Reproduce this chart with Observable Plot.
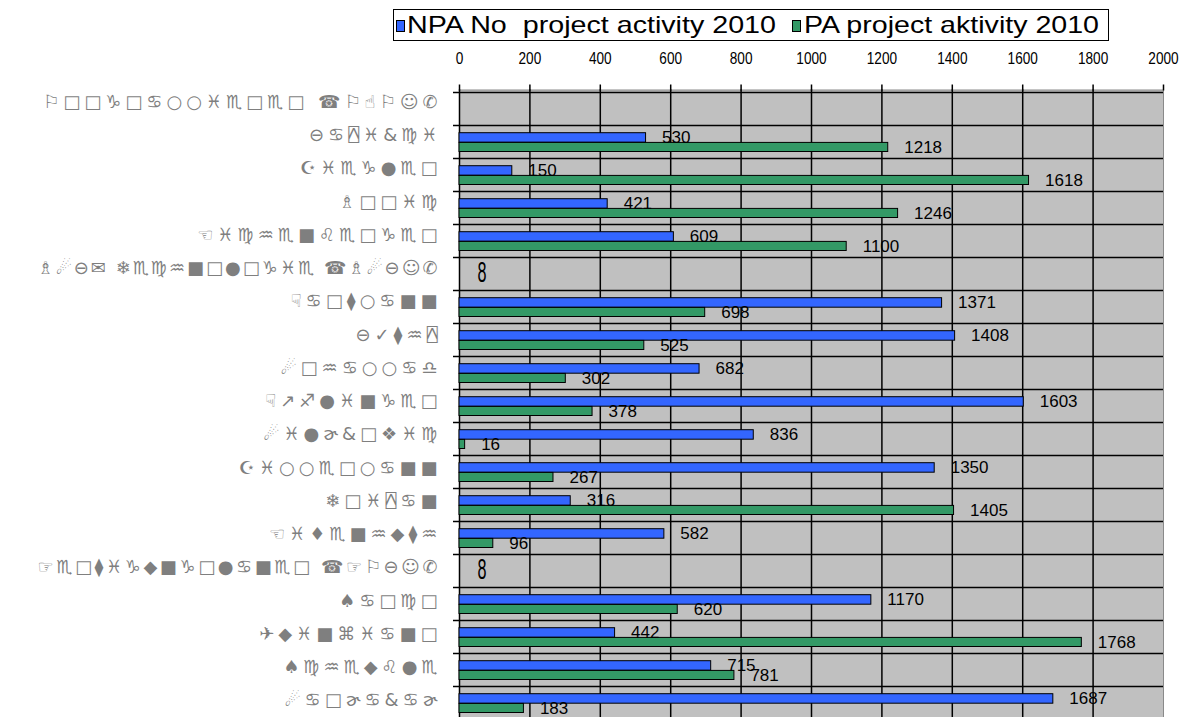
<!DOCTYPE html>
<html><head><meta charset="utf-8">
<script src="https://cdn.jsdelivr.net/npm/d3@7"></script>
<script src="https://cdn.jsdelivr.net/npm/@observablehq/plot@0.6"></script>
<style>
html,body{margin:0;padding:0;background:#fff;}
body{width:1190px;height:717px;overflow:hidden;font-family:"Liberation Sans",Arial,sans-serif;}
#legend{position:relative;height:45px;}
#box{position:absolute;left:393px;top:9px;width:716px;height:32px;border:1px solid #000;box-sizing:border-box;background:#fff;}
.sw{position:absolute;top:10px;width:9px;height:12px;border:1px solid #000;box-sizing:border-box;}
.lt{position:absolute;top:1px;font-size:24px;line-height:28px;white-space:pre;transform-origin:0 50%;color:#000;}
#chart svg{display:block;}
</style></head><body>
<div id="legend"><div id="box"></div></div>
<div id="chart"></div>
<script>
// ---- data ----
const categories = [
  "Programmierer (PGPJ)", "Kayikci", "Ziegler", "Boric", "Eichenberger",
  "BMK* Technologie (BMKJ)", "Hartmann", "Küthy", "Mohammad", "Häflinger",
  "Miljkovic", "Zimmermann", "Triyan", "Eisenhuth", "Fertigungplaner (FPKJ)",
  "Sarco", "Quinziano", "Scheuble", "Marjakaj"
];
const npaValues = [null, 530, 150, 421, 609, null, 1371, 1408, 682, 1603, 836, 1350, 316, 582, null, 1170, 442, 715, 1687];
const paValues  = [null, 1218, 1618, 1246, 1100, null, 698, 525, 302, 378, 16, 267, 1405, 96, null, 620, 1768, 781, 183];
const zeroLabels = [null, null, null, null, null, "8", null, null, null, null, null, null, null, null, "8", null, null, null, null];
const xTicks = [0, 200, 400, 600, 800, 1000, 1200, 1400, 1600, 1800, 2000];
const seriesNames = ["NPA No  project activity 2010", "PA project aktivity 2010"];
const seriesColors = ["#3366ff", "#339966"];

// The original labels were rendered in a Wingdings-like symbol font
const wingMap = {
  a:"♋", b:"♌", c:"♍", d:"♎", e:"♏", f:"♐", g:"♑", h:"♒", i:"♓", j:"ɚ", k:"&",
  l:"●", m:"○", n:"■", o:"□", p:"□", r:"□", s:"♦", t:"⧫", u:"◆", v:"❖",
  y:"⍓", z:"⌘", B:"♗", E:"☜", F:"☞", G:"☝", H:"☟", J:"☺", K:"⊖", M:"☄",
  P:"⚐", Q:"✈", S:"♠", T:"❄", Z:"☪", "(":"☎", ")":"✆", "*":"✉",
  "ü":"✓", "ä":"↗"
};
const toWing = s => Array.from(s).map(ch => wingMap[ch] ?? ch).join("");

// ---- legend ----
const box = document.getElementById("box");
const legendLayout = [{sw: 2, tx: 13, w: 369}, {sw: 398, tx: 410, w: 295}];
seriesNames.forEach((name, i) => {
  const sw = document.createElement("div");
  sw.className = "sw"; sw.style.left = legendLayout[i].sw + "px"; sw.style.background = seriesColors[i];
  box.appendChild(sw);
  const t = document.createElement("span");
  t.className = "lt"; t.style.left = legendLayout[i].tx + "px"; t.textContent = name;
  box.appendChild(t);
  const w = t.getBoundingClientRect().width;
  t.style.transform = `scaleX(${legendLayout[i].w / w})`;
});

// ---- chart ----
const W = 1190, H = 676, mt = 44.5, mb = 0.5, ml = 459, mr = 27;
const bw = (H - mt - mb) / categories.length;
const npa = categories.map((c, i) => ({cat: c, value: npaValues[i]})).filter(d => d.value != null);
const pa = categories.map((c, i) => ({cat: c, value: paValues[i]})).filter(d => d.value != null);
const zeros = categories.map((c, i) => ({cat: c, label: zeroLabels[i]})).filter(d => d.label);

const plot = Plot.plot({
  width: W, height: H,
  marginTop: mt, marginBottom: mb, marginLeft: ml, marginRight: mr,
  style: {fontFamily: '"Liberation Sans", Arial, sans-serif', background: "transparent", overflow: "visible", color: "#000"},
  x: {domain: [xTicks[0], xTicks[xTicks.length - 1]], axis: null},
  y: {domain: categories, padding: 0, axis: null},
  marks: [
    Plot.frame({fill: "#c0c0c0", stroke: "#8a8a8a"}),
    Plot.ruleX(xTicks.slice(0, -1), {stroke: "#000", strokeWidth: 1.5}),
    Plot.tickY(categories, {y: d => d, dy: -bw / 2, insetLeft: -6, stroke: "#000", strokeWidth: 1.5}),
    Plot.axisX(xTicks, {anchor: "top", label: null, tickSize: 6, tickPadding: 20, fontSize: 17,
      strokeWidth: 1.5, tickFormat: d => String(d)}),
    Plot.axisY({anchor: "left", label: null, tickSize: 0, tickPadding: 18, tickFormat: toWing, fill: "#7f7f7f",
      fontSize: 18, fontFamily: '"DejaVu Sans", "DejaVu Sans Mono", sans-serif'}),
    Plot.barX(npa, {x: "value", y: "cat", fill: seriesColors[0], stroke: "#000", strokeWidth: 1,
      insetTop: 7.7, insetBottom: bw - 17.4}),
    Plot.barX(pa, {x: "value", y: "cat", fill: seriesColors[1], stroke: "#000", strokeWidth: 1,
      insetTop: 17.4, insetBottom: 6.5}),
    Plot.text(npa, {x: "value", y: "cat", text: d => String(d.value), dx: 16, dy: -4.3,
      textAnchor: "start", fontSize: 17, fill: "#000"}),
    Plot.text(pa, {x: "value", y: "cat", text: d => String(d.value), dx: 16, dy: 5.6,
      textAnchor: "start", fontSize: 17, fill: "#000"}),
    Plot.text(zeros, {x: () => 0, y: "cat", text: "label", dx: 18, dy: -1, textAnchor: "start",
      fontSize: 29, fill: "#000"})
  ]
});
document.getElementById("chart").appendChild(plot);

// condensed look of axis numbers / header labels, spacing of the symbol labels
try {
  let yi = 0;
  const n = categories.length;
  const maxLabel = 400;
  Array.from(plot.querySelectorAll("text")).forEach(t => {
    const g = t.parentNode;
    const lab = (g && g.getAttribute && g.getAttribute("aria-label")) || "";
    const content = t.textContent;
    if (/x-axis/.test(lab)) {
      const L = t.getComputedTextLength();
      t.setAttribute("textLength", (L * 0.8).toFixed(1));
      t.setAttribute("lengthAdjust", "spacingAndGlyphs");
    } else if (/y-axis/.test(lab)) {
      t.style.letterSpacing = "4px";
      const L = t.getComputedTextLength();
      if (L > maxLabel) {
        t.style.letterSpacing = "0px";
        t.setAttribute("textLength", maxLabel);
        t.setAttribute("lengthAdjust", "spacing");
      }
      // the original labels sit slightly above their rows, more so at the top
      const off = -7 + 4.5 * (yi / (n - 1));
      const tr = t.getAttribute("transform") || "";
      t.setAttribute("transform", tr + ` translate(${L > maxLabel ? -4 : 0},${off.toFixed(2)})`);
      yi++;
    } else if (zeroLabels.includes(content)) {
      t.setAttribute("textLength", "9");
      t.setAttribute("lengthAdjust", "spacingAndGlyphs");
    }
  });
} catch (e) {}
</script>
</body></html>
